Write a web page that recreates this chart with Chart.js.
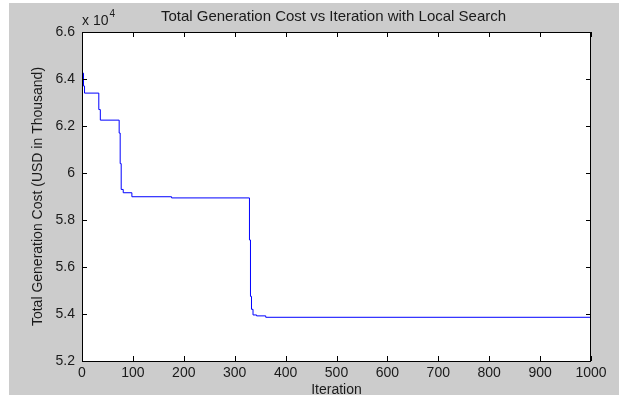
<!DOCTYPE html>
<html>
<head>
<meta charset="utf-8">
<title>Total Generation Cost vs Iteration</title>
<script src="https://cdn.jsdelivr.net/npm/chart.js@4.4.1/dist/chart.umd.min.js"></script>
<style>
  html, body { margin: 0; padding: 0; background: #fff; }
</style>
</head>
<body>
<canvas id="chart" width="619" height="395"></canvas>
<script>
// données (coût en USD x1000, échelle affichée en x10^4)
const iterations = [0, 1, 3, 5, 33, 36, 73, 75, 77, 81, 98, 176, 329, 331, 333, 336, 343, 361, 1000];
const costs = [64450, 64250, 63700, 63400, 62700, 62250, 61700, 60400, 59300, 59160, 58990, 58940,
               57150, 54750, 54200, 53960, 53920, 53860, 53860];

const xTicks = [0, 100, 200, 300, 400, 500, 600, 700, 800, 900, 1000];
const yTicks = [52000, 54000, 56000, 58000, 60000, 62000, 64000, 66000];

const titleText = "Total Generation Cost vs Iteration with Local Search";
const xLabel = "Iteration";
const yLabel = "Total Generation Cost (USD in Thousand)";

const FONT = "'Liberation Sans', Arial, sans-serif";
const GREY = "#cccccc";
const TEXT = "#1a1a1a";

// fond gris façon figure matlab + cadre + ticks vers l'intérieur
const figurePlugin = {
  id: "figure",
  beforeDraw(chart) {
    const { ctx, chartArea: a } = chart;
    ctx.save();
    ctx.fillStyle = "#fff";
    ctx.fillRect(0, 0, chart.width, chart.height);
    ctx.fillStyle = GREY;
    ctx.fillRect(9, 3, chart.width - 9, chart.height - 3);
    ctx.fillStyle = "#fff";
    ctx.fillRect(a.left, a.top, a.right - a.left, a.bottom - a.top);
    ctx.restore();
  },
  afterDraw(chart) {
    const { ctx, chartArea: a, scales } = chart;
    const tk = 5;
    ctx.save();
    ctx.strokeStyle = "#000";
    ctx.lineWidth = 1;
    ctx.strokeRect(a.left + 0.5, a.top + 0.5, a.right - a.left - 1, a.bottom - a.top);

    ctx.beginPath();
    xTicks.forEach((v) => {
      const x = Math.round(scales.x.getPixelForValue(v)) + 0.5;
      ctx.moveTo(x, a.bottom); ctx.lineTo(x, a.bottom - tk);
      ctx.moveTo(x, a.top); ctx.lineTo(x, a.top + tk);
    });
    yTicks.forEach((v) => {
      const y = Math.round(scales.y.getPixelForValue(v)) + 0.5;
      ctx.moveTo(a.left, y); ctx.lineTo(a.left + tk, y);
      ctx.moveTo(a.right, y); ctx.lineTo(a.right - tk, y);
    });
    ctx.stroke();

    // titre centré sur la zone de tracé
    ctx.fillStyle = TEXT;
    ctx.textBaseline = "middle";
    ctx.textAlign = "center";
    ctx.font = "15px " + FONT;
    ctx.fillText(titleText, (a.left + a.right) / 2 - 3, 17);

    // multiplicateur x 10^4
    ctx.textAlign = "left";
    ctx.font = "14px " + FONT;
    ctx.fillText("x 10", a.left, 21);
    const w = ctx.measureText("x 10").width;
    ctx.font = "10px " + FONT;
    ctx.fillText("4", a.left + w + 1, 14);
    ctx.restore();
  }
};

new Chart(document.getElementById("chart"), {
  type: "line",
  data: {
    datasets: [{
      data: iterations.map((it, i) => ({ x: it, y: costs[i] })),
      borderColor: "#0000ff",
      borderWidth: 1,
      pointRadius: 0,
      stepped: "before",
      fill: false
    }]
  },
  options: {
    responsive: false,
    devicePixelRatio: 1,
    animation: false,
    layout: { padding: { top: 32, right: 28, left: 0, bottom: 0 } },
    plugins: {
      legend: { display: false },
      tooltip: { enabled: false }
    },
    scales: {
      x: {
        type: "linear",
        min: 0,
        max: 1000,
        afterFit: (s) => { s.height = 34; },
        afterBuildTicks: (s) => { s.ticks = xTicks.map((v) => ({ value: v })); },
        grid: { display: false, drawTicks: false },
        border: { display: false },
        ticks: {
          color: TEXT,
          padding: 4,
          maxRotation: 0,
          font: { family: FONT, size: 14 },
          callback: (v) => String(v)
        },
        title: {
          display: true,
          text: xLabel,
          color: TEXT,
          font: { family: FONT, size: 14, lineHeight: 1 },
          padding: { top: 0, bottom: -2 }
        }
      },
      y: {
        min: 52000,
        max: 66000,
        afterFit: (s) => { s.width = 82; },
        afterBuildTicks: (s) => { s.ticks = yTicks.map((v) => ({ value: v })); },
        grid: { display: false, drawTicks: false },
        border: { display: false },
        ticks: {
          color: TEXT,
          padding: 7,
          font: { family: FONT, size: 14 },
          callback: (v) => String(+(v / 10000).toFixed(1))
        },
        title: {
          display: true,
          text: yLabel,
          color: TEXT,
          font: { family: FONT, size: 14, lineHeight: 1 },
          padding: { top: 31, bottom: 0 }
        }
      }
    }
  },
  plugins: [figurePlugin]
});
</script>
</body>
</html>
